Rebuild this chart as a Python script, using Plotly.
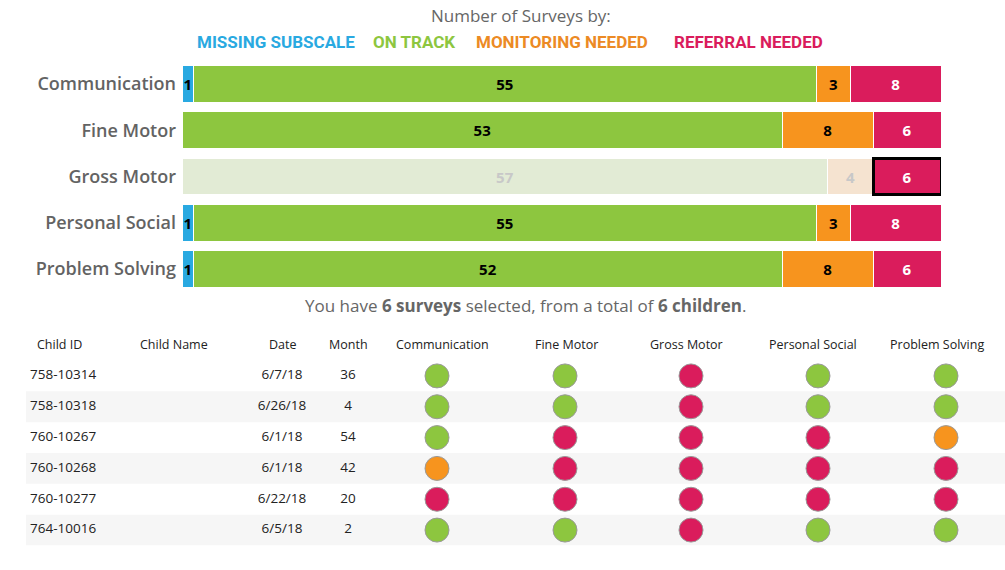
import plotly.graph_objects as go

# ---------------- data ----------------
domains = ["Communication", "Fine Motor", "Gross Motor", "Personal Social", "Problem Solving"]
missing_subscale = [1, 0, 0, 1, 1]
on_track = [55, 53, 57, 55, 52]
monitoring_needed = [3, 8, 4, 3, 8]
referral_needed = [8, 6, 6, 8, 6]
selected_domain = "Gross Motor"

child_ids = ["758-10314", "758-10318", "760-10267", "760-10268", "760-10277", "764-10016"]
child_names = ["", "", "", "", "", ""]
dates = ["6/7/18", "6/26/18", "6/1/18", "6/1/18", "6/22/18", "6/5/18"]
months = [36, 4, 54, 42, 20, 2]
status_communication = ["ON", "ON", "ON", "MON", "REF", "ON"]
status_fine_motor = ["ON", "ON", "REF", "REF", "REF", "ON"]
status_gross_motor = ["REF", "REF", "REF", "REF", "REF", "REF"]
status_personal_social = ["ON", "ON", "REF", "REF", "REF", "ON"]
status_problem_solving = ["ON", "ON", "MON", "REF", "REF", "ON"]

# ---------------- styles ----------------
C_BLUE = "#29a9e1"
C_GREEN = "#8dc63f"
C_ORANGE = "#f7941e"
C_RED = "#da1c5c"
FADE = {C_BLUE: "#d4ecf8", C_GREEN: "#e2ebd5", C_ORANGE: "#f5e3d0", C_RED: "#f5d0dc"}
STATUS_COLOR = {"ON": C_GREEN, "MON": C_ORANGE, "REF": C_RED, "MISS": C_BLUE}
GREY_TXT = "#666666"
FONT = "Open Sans"

W, H = 1005, 570


def py(px):
    return 1 - px / H


fig = go.Figure()

# ---------------- stacked bars ----------------
series = [
    ("Missing Subscale", missing_subscale, C_BLUE, "black", False),
    ("On Track", on_track, C_GREEN, "black", False),
    ("Monitoring Needed", monitoring_needed, C_ORANGE, "black", False),
    ("Referral Needed", referral_needed, C_RED, "white", True),
]
for name, vals, col, tcol, is_sel in series:
    colors, tcolors, lcolors, lwidths = [], [], [], []
    for d in domains:
        if d == selected_domain and not is_sel:
            colors.append(FADE[col])
            tcolors.append("#c8c8c8")
            lcolors.append("white")
            lwidths.append(1)
        elif d == selected_domain and is_sel:
            colors.append(col)
            tcolors.append(tcol)
            lcolors.append("black")
            lwidths.append(3)
        else:
            colors.append(col)
            tcolors.append(tcol)
            lcolors.append("white")
            lwidths.append(1)
    fig.add_trace(go.Bar(
        y=domains, x=vals, orientation="h", name=name,
        marker=dict(color=colors, line=dict(color=lcolors, width=lwidths)),
        text=[str(v) if v else "" for v in vals],
        textposition="inside", insidetextanchor="middle", textangle=0,
        textfont=dict(color=tcolors, size=15, family=FONT, weight="bold"),
        cliponaxis=False, hoverinfo="skip", showlegend=False,
        xaxis="x", yaxis="y",
    ))

# ---------------- table ----------------
col_x = {"id": 30, "date": 282, "month": 348,
         "Communication": 437, "Fine Motor": 565, "Gross Motor": 691,
         "Personal Social": 818, "Problem Solving": 946}
TXT = "#222222"
ROW_FS = 13.5

fig.add_trace(go.Scatter(
    x=[col_x["id"]] * len(child_ids), y=child_ids, mode="text", text=child_ids,
    textposition="middle right", textfont=dict(size=ROW_FS, color=TXT, family=FONT),
    xaxis="x2", yaxis="y2", hoverinfo="skip", showlegend=False))
fig.add_trace(go.Scatter(
    x=[col_x["date"]] * len(child_ids), y=child_ids, mode="text", text=dates,
    textposition="middle center", textfont=dict(size=ROW_FS, color=TXT, family=FONT),
    xaxis="x2", yaxis="y2", hoverinfo="skip", showlegend=False))
fig.add_trace(go.Scatter(
    x=[col_x["month"]] * len(child_ids), y=child_ids, mode="text", text=[str(m) for m in months],
    textposition="middle center", textfont=dict(size=ROW_FS, color=TXT, family=FONT),
    xaxis="x2", yaxis="y2", hoverinfo="skip", showlegend=False))

status_cols = [
    ("Communication", status_communication),
    ("Fine Motor", status_fine_motor),
    ("Gross Motor", status_gross_motor),
    ("Personal Social", status_personal_social),
    ("Problem Solving", status_problem_solving),
]
for dname, stats in status_cols:
    fig.add_trace(go.Scatter(
        x=[col_x[dname]] * len(child_ids), y=child_ids, mode="markers",
        marker=dict(size=24, color=[STATUS_COLOR[s] for s in stats],
                    line=dict(color="#9a9a9a", width=1)),
        xaxis="x2", yaxis="y2", hoverinfo="skip", showlegend=False))

shapes = []
for i in range(len(child_ids)):
    if i % 2 == 1:
        shapes.append(dict(type="rect", xref="x2", yref="y2", x0=26, x1=1005,
                           y0=i - 0.5, y1=i + 0.5, fillcolor="#f6f6f6",
                           line=dict(width=0), layer="below"))

# ---------------- annotations ----------------
ann = []
ann.append(dict(text="Number of Surveys by:", x=521 / W, y=py(16), xref="paper", yref="paper",
                xanchor="center", yanchor="middle",
                showarrow=False, font=dict(size=17, color=GREY_TXT, family=FONT)))
legend_items = [("MISSING SUBSCALE", C_BLUE, 276), ("ON TRACK", C_GREEN, 414),
                ("MONITORING NEEDED", "#ec8a24", 562), ("REFERRAL NEEDED", C_RED, 748)]
for t, c, cx in legend_items:
    ann.append(dict(text=t, x=cx / W, y=py(42), xref="paper", yref="paper", showarrow=False,
                    xanchor="center", yanchor="middle",
                    font=dict(size=17, color=c, family="Roboto", weight="bold")))
ann.append(dict(
    text=f"You have <b>{len(child_ids)} surveys</b> selected, from a total of <b>{len(set(child_ids))} children</b>.",
    x=525 / W, y=py(305), xref="paper", yref="paper", showarrow=False,
    xanchor="center", yanchor="middle",
    font=dict(size=17, color=GREY_TXT, family=FONT)))

headers = [("Child ID", 35, "left"), ("Child Name", 138, "left"), ("Date", 283, "center"),
           ("Month", 348, "center"), ("Communication", 442, "center"), ("Fine Motor", 566, "center"),
           ("Gross Motor", 686, "center"), ("Personal Social", 813, "center"),
           ("Problem Solving", 937, "center")]
for t, hx, anc in headers:
    ann.append(dict(text=t, x=hx, y=py(344), xref="x2", yref="paper", xanchor=anc,
                    yanchor="middle",
                    showarrow=False, font=dict(size=12.5, color=TXT, family=FONT)))

fig.update_layout(
    width=W, height=H, margin=dict(l=0, r=0, t=0, b=0),
    paper_bgcolor="white", plot_bgcolor="rgba(0,0,0,0)",
    barmode="stack", bargap=0.2,
    uniformtext=dict(minsize=15, mode="show"),
    xaxis=dict(domain=[182 / W, 941 / W], range=[0, 67], visible=False, fixedrange=True),
    yaxis=dict(domain=[py(292), py(61)], autorange="reversed", showgrid=False, zeroline=False,
               showline=False, ticks="", ticklabelstandoff=5,
               tickfont=dict(size=18, color="#636363", family=FONT, weight=600)),
    xaxis2=dict(domain=[0, 1], range=[0, W], visible=False, anchor="y2"),
    yaxis2=dict(domain=[py(545.5), py(360.5)], range=[len(child_ids) - 0.5, -0.5],
                visible=False, anchor="x2", type="category"),
    shapes=shapes, annotations=ann,
)

fig.write_html("out.html", config={"displayModeBar": False},
               post_script="document.body.style.margin='0px';")
